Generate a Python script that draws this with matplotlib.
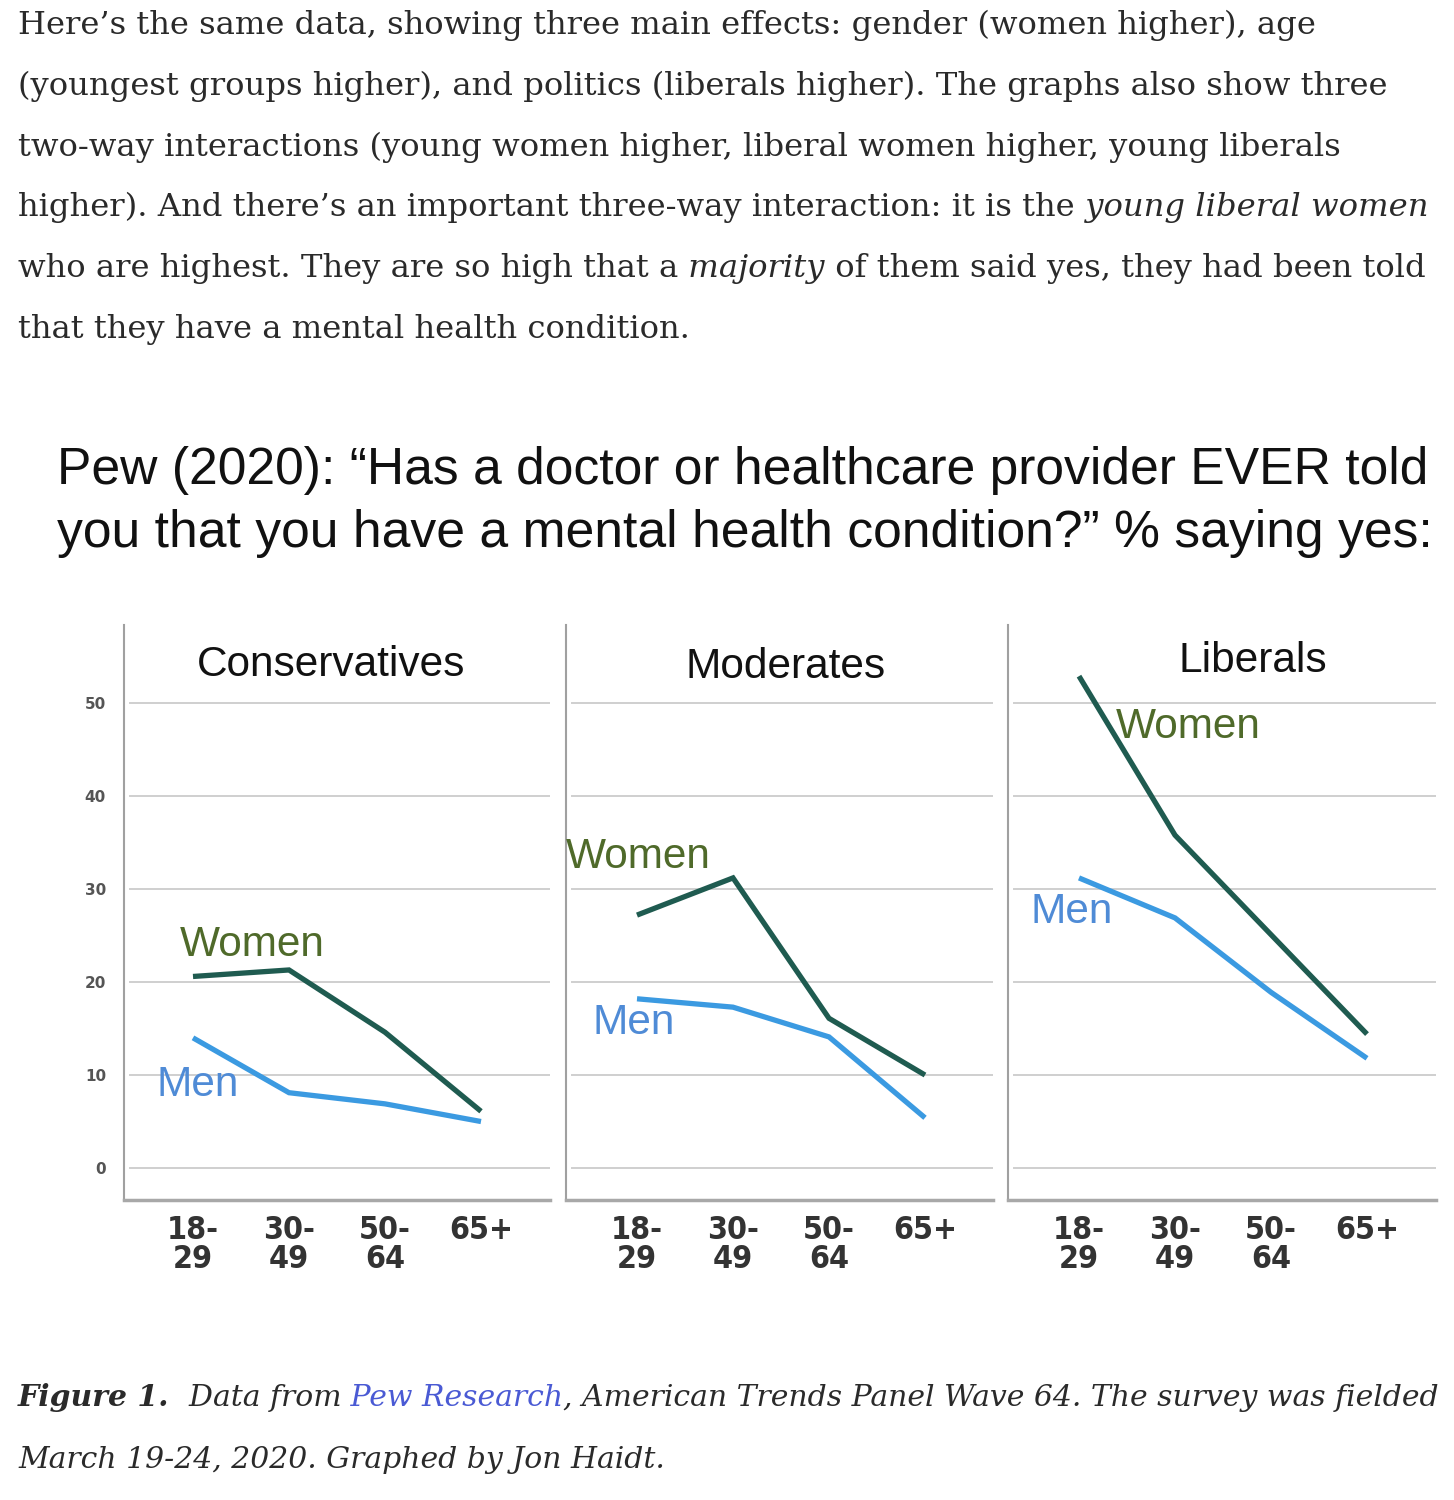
import matplotlib.pyplot as plt

W, H = 1454, 1500

groups = ["Conservatives", "Moderates", "Liberals"]
ages = ["18-\n29", "30-\n49", "50-\n64", "65+"]
yticks = [0, 10, 20, 30, 40, 50]

women = [
    [20.6, 21.3, 14.6, 6.1],
    [27.2, 31.2, 16.1, 10.0],
    [52.9, 35.8, 25.1, 14.4],
]
men = [
    [14.0, 8.1, 6.9, 5.0],
    [18.2, 17.3, 14.1, 5.4],
    [31.2, 26.9, 18.9, 11.8],
]

paragraph = [
    [("Here\u2019s the same data, showing three main effects: gender (women higher), age", "normal")],
    [("(youngest groups higher), and politics (liberals higher). The graphs also show three", "normal")],
    [("two-way interactions (young women higher, liberal women higher, young liberals", "normal")],
    [("higher). And there\u2019s an important three-way interaction: it is the", "normal"),
     (" young liberal women", "italic")],
    [("who are highest. They are so high that a", "normal"), (" majority", "italic"),
     (" of them said yes, they had been told", "normal")],
    [("that they have a mental health condition.", "normal")],
]

title_lines = [
    "Pew (2020): \u201cHas a doctor or healthcare provider EVER told",
    "you that you have a mental health condition?\u201d % saying yes:",
]

WOMEN_LINE = "#1f5b50"
MEN_LINE = "#3b9ae1"
WOMEN_TXT = "#4f6a2a"
MEN_TXT = "#4f8bd6"

fig = plt.figure(figsize=(W / 100, H / 100), dpi=100)
renderer = fig.canvas.get_renderer()


def fx(px):
    return px / W


def fy(py):
    return 1 - py / H


def draw_runs(x, y, runs, size, family, color="#2a2a2a"):
    for text, style in runs:
        kw = dict(fontsize=size, family=family, va="baseline", ha="left", color=color)
        if "italic" in style:
            kw["style"] = "italic"
        if "bold" in style:
            kw["weight"] = "bold"
        if "link" in style:
            kw["color"] = "#4a5ad4"
        t = fig.text(fx(x), fy(y), text, **kw)
        x = t.get_window_extent(renderer).x1


# intro paragraph
for i, runs in enumerate(paragraph):
    draw_runs(18, 34 + 60.8 * i, runs, 23.2, "DejaVu Serif")

# chart title
for i, line in enumerate(title_lines):
    fig.text(fx(57), fy(484 + 63 * i), line, fontsize=37.2, family="Liberation Sans",
             va="baseline", ha="left", color="#111111")

# panels
panel_px = [(124, 550, 193), (566, 993, 637), (1008, 1436, 1079)]
title_pos = [(0.486, 0.930), (0.515, 0.927), (0.572, 0.937)]
women_lab = [(-0.135, 24.0), (-0.74, 33.4), (0.385, 47.4)]
men_lab = [(-0.375, 8.9), (-0.46, 15.6), (-0.51, 27.5)]
step = 96
top, bottom = 625, 1200

for i, name in enumerate(groups):
    left, right, p0 = panel_px[i]
    ax = fig.add_axes([fx(left), fy(bottom), (right - left) / W, (bottom - top) / H])
    ax.set_xlim((left - p0) / step, (right - p0) / step)
    ax.set_ylim(-3.44, 58.4)

    for v in yticks:
        ax.axhline(v, xmin=0.015, xmax=1, color="#cfcfcf", lw=1.4, zorder=0)

    x = range(len(ages))
    ax.plot(x, women[i], color=WOMEN_LINE, lw=3.8, solid_capstyle="butt", solid_joinstyle="miter")
    ax.plot(x, men[i], color=MEN_LINE, lw=3.8, solid_capstyle="butt", solid_joinstyle="miter")

    ax.text(*women_lab[i], "Women", fontsize=30.5, family="Liberation Sans", color=WOMEN_TXT,
            va="center", ha="left")
    ax.text(*men_lab[i], "Men", fontsize=30.5, family="Liberation Sans", color=MEN_TXT,
            va="center", ha="left")
    ax.text(title_pos[i][0], title_pos[i][1], name, transform=ax.transAxes, fontsize=30.5,
            family="Liberation Sans", color="#111111", ha="center", va="center")

    for s in ["top", "right"]:
        ax.spines[s].set_visible(False)
    ax.spines["left"].set_color("#a0a0a0")
    ax.spines["left"].set_linewidth(1.5)
    ax.spines["bottom"].set_color("#a8a8a8")
    ax.spines["bottom"].set_linewidth(2.5)

    ax.set_yticks(yticks)
    if i == 0:
        ax.set_yticklabels([str(v) for v in yticks], fontsize=11, weight="bold", color="#555555")
    else:
        ax.set_yticklabels([])
    ax.tick_params(axis="y", length=0, pad=13)

    ax.set_xticks(list(x))
    ax.set_xticklabels(ages, fontsize=23, color="#333333", linespacing=0.92, weight="bold",
                       family="DejaVu Sans", fontstretch="condensed")
    ax.tick_params(axis="x", length=0, pad=11)
    ax.set_facecolor("none")

# caption
draw_runs(18, 1406, [("Figure 1.", "bold italic"), ("  Data from", "italic"),
                     (" Pew Research", "italic link"),
                     (", American Trends Panel Wave 64. The survey was fielded", "italic")],
          21.5, "DejaVu Serif")
draw_runs(18, 1468, [("March 19-24, 2020. Graphed by Jon Haidt.", "italic")], 21.5, "DejaVu Serif")

fig.savefig("out.png", dpi=100)
